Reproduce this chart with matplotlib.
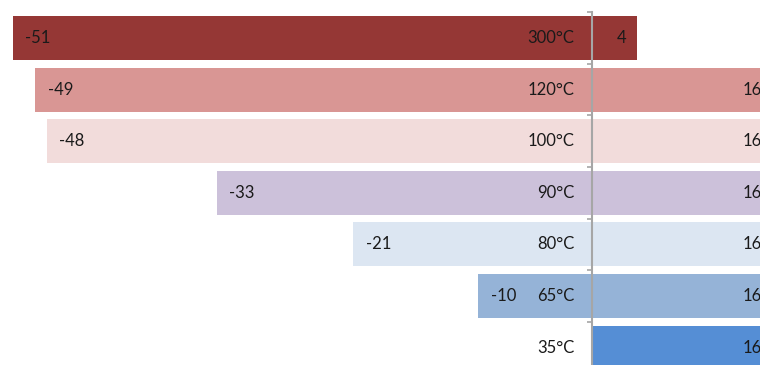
import matplotlib
matplotlib.use("Agg")
import matplotlib.pyplot as plt
import numpy as np

categories = ["300°C", "120°C", "100°C", "90°C", "80°C", "65°C", "35°C"]
left_values = [-51, -49, -48, -33, -21, -10, 0]
right_values = [4, 16, 16, 16, 16, 16, 16]
colors = ["#953735", "#D99694", "#F2DCDB", "#CCC1DA", "#DCE6F2", "#95B3D7", "#558ED5"]

plt.rcParams['font.family'] = ['Lato', 'DejaVu Sans']

W, H = 760, 365
fig = plt.figure(figsize=(W / 100, H / 100), dpi=100)
top_px, bottom_px = 12.2, 373.4
ax = fig.add_axes([0, (H - bottom_px) / H, 1, (bottom_px - top_px) / H])

y = np.arange(len(categories))
bh = 0.85
ax.barh(y, left_values, height=bh, color=colors, linewidth=0)
ax.barh(y, right_values, height=bh, color=colors, linewidth=0)

scale = 11.35
zero_px = 591.5
ax.set_xlim(-zero_px / scale, (W - zero_px) / scale)
ax.set_ylim(len(categories) - 0.5, -0.5)

tc = "#1a1a1a"
for i, (cat, lv, rv) in enumerate(zip(categories, left_values, right_values)):
    ax.annotate(cat, (0, i), xytext=(-17, 0), textcoords='offset pixels',
                ha='right', va='center', fontsize=12, color=tc)
    if lv != 0:
        ax.annotate(str(lv), (lv, i), xytext=(12.5, 0), textcoords='offset pixels',
                    ha='left', va='center', fontsize=12, color=tc)
    if rv != 0:
        ax.annotate(str(rv), (rv, i), xytext=(-11, 0), textcoords='offset pixels',
                    ha='right', va='center', fontsize=12, color=tc, annotation_clip=False)

for s in ['top', 'right', 'bottom']:
    ax.spines[s].set_visible(False)
ax.spines['left'].set_position(('data', 0))
ax.spines['left'].set_color('#A6A6A6')
ax.spines['left'].set_linewidth(1.5)
ax.spines['left'].set_zorder(3)

ax.set_xticks([])
ax.set_yticks(np.arange(-0.5, len(categories), 1.0))
ax.set_yticklabels([])
ax.tick_params(axis='y', direction='out', length=3.6, width=1.2, color='#A6A6A6')

fig.savefig("out.png", dpi=100)
